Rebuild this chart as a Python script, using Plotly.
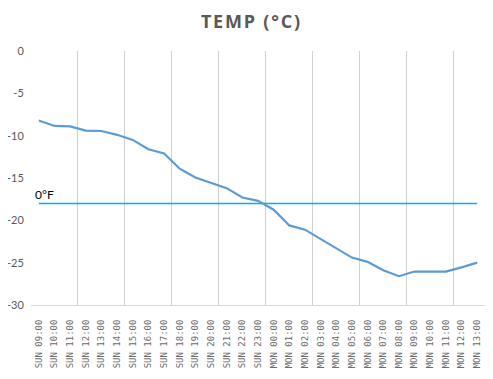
import plotly.graph_objects as go

categories = (["SUN %02d:00" % h for h in range(9, 24)] +
              ["MON %02d:00" % h for h in range(0, 14)])
temp_c = [-8.2, -8.85, -8.9, -9.4, -9.45, -9.9, -10.5, -11.6, -12.1, -13.9,
          -14.95, -15.55, -16.2, -17.3, -17.7, -18.75, -20.6, -21.1, -22.2,
          -23.3, -24.4, -24.9, -25.9, -26.6, -26.05, -26.05, -26.05, -25.55, -25.0]
zero_f = [-18.0] * len(categories)
y_ticks = [0, -5, -10, -15, -20, -25, -30]
title_text = "TEMP (°C)"

xs = list(range(len(categories)))

fig = go.Figure()
fig.add_trace(go.Scatter(x=xs, y=zero_f, mode="lines",
                         line=dict(color="#00B0F0", width=1.5), hoverinfo="skip"))
fig.add_trace(go.Scatter(x=xs, y=temp_c, mode="lines",
                         line=dict(color="#5B9BD5", width=2.2)))

fig.add_annotation(x=-0.5, y=zero_f[0], xref="x", yref="y", text="0°F",
                   showarrow=False, xanchor="left", yanchor="bottom",
                   xshift=2, yshift=-1,
                   font=dict(family="Lato, Open Sans", size=12, color="#000000"))

spaced_title = "\u200a".join(title_text)

# page body has an 8px default margin; compensate so the plot lands where the reference's does
fig.update_layout(
    width=485, height=371,
    margin=dict(l=23, r=8, t=43, b=74),
    paper_bgcolor="white", plot_bgcolor="white",
    showlegend=False,
    title=dict(text="<b>" + spaced_title + "</b>", x=0.5, xanchor="center", y=0.962,
               yanchor="middle",
               font=dict(family="Open Sans", size=18, color="#595959")),
    xaxis=dict(
        automargin=False,
        range=[-0.5, len(categories) - 0.5],
        tickmode="array", tickvals=xs, ticktext=categories,
        tickangle=-90,
        tickfont=dict(family="DejaVu Sans Mono", size=9, color="#6B6B6B"),
        showgrid=False, zeroline=False,
        showline=True, linecolor="#D9D9D9", linewidth=1,
        ticks="outside", ticklen=10, tickcolor="rgba(0,0,0,0)",
        minor=dict(tick0=-0.5, dtick=3, showgrid=True, gridcolor="#CDD2CD",
                   gridwidth=1, ticks=""),
    ),
    yaxis=dict(
        automargin=False,
        range=[-30, 0],
        tickmode="array", tickvals=y_ticks, ticktext=[str(v) for v in y_ticks],
        tickfont=dict(family="Lato, Open Sans", size=11, color="#595959"),
        showgrid=False, zeroline=False, showline=False,
        ticks="outside", ticklen=4, tickcolor="rgba(0,0,0,0)",
    ),
)

fig.write_html("out.html")
